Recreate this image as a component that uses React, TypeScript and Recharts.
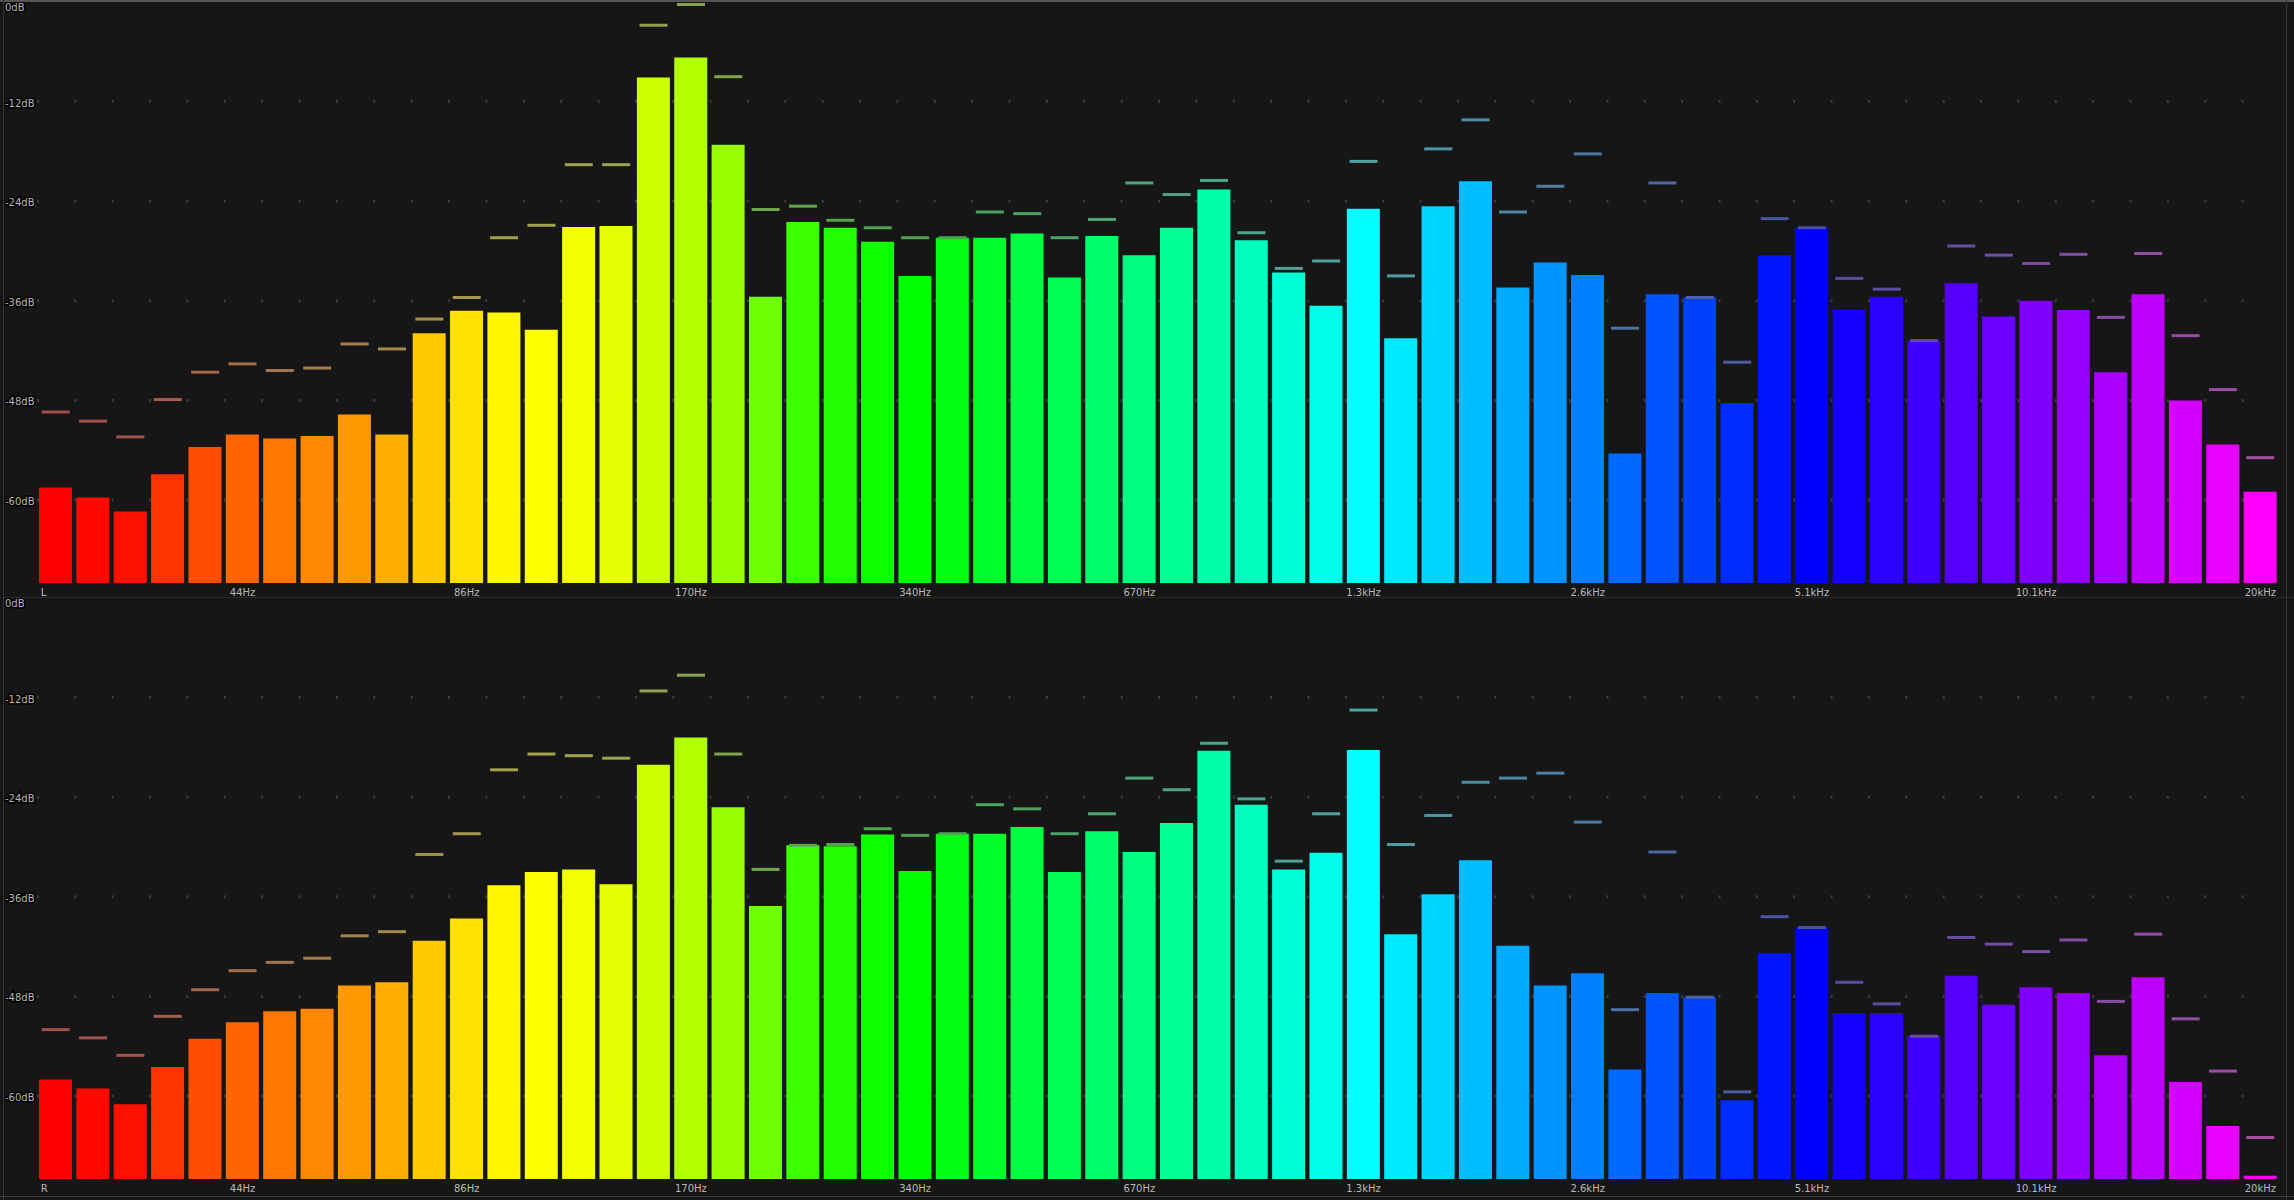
import { Bar, CartesianGrid, Cell, ComposedChart, Line, XAxis, YAxis } from "recharts";

// spectrum levels in dB, 60 bands
const LEFT_LEVEL = [
  -58.5, -59.7, -61.4, -56.9, -53.6, -52.1, -52.6, -52.3, -49.7, -52.1,
  -39.9, -37.2, -37.4, -39.5, -27.1, -27.0, -9.1, -6.7, -17.2, -35.5,
  -26.5, -27.2, -28.9, -33.0, -28.4, -28.4, -27.9, -33.2, -28.2, -30.5,
  -27.2, -22.6, -28.7, -32.6, -36.6, -24.9, -40.5, -24.6, -21.6, -34.4,
  -31.4, -32.9, -54.4, -35.2, -35.6, -48.3, -30.5, -27.2, -37.1, -35.5,
  -40.8, -33.9, -37.9, -36.0, -37.1, -44.6, -35.2, -48.0, -53.3, -59.0,
];
const LEFT_PEAK = [
  -49.4, -50.5, -52.4, -47.9, -44.6, -43.6, -44.4, -44.1, -41.2, -41.8,
  -38.2, -35.6, -28.4, -26.9, -19.6, -19.6, -2.8, -0.3, -9.0, -25.0,
  -24.6, -26.3, -27.2, -28.4, -28.4, -25.3, -25.5, -28.4, -26.2, -21.8,
  -23.2, -21.5, -27.8, -32.1, -31.2, -19.2, -33.0, -17.7, -14.2, -25.3,
  -22.2, -18.3, -39.3, -21.8, -35.6, -43.4, -26.1, -27.2, -33.3, -34.6,
  -40.8, -29.4, -30.5, -31.5, -30.4, -38.0, -30.3, -40.2, -46.7, -54.9,
];
const RIGHT_LEVEL = [
  -58.0, -59.1, -61.0, -56.5, -53.1, -51.1, -49.8, -49.5, -46.7, -46.3,
  -41.3, -38.6, -34.6, -33.0, -32.7, -34.5, -20.1, -16.8, -25.2, -37.1,
  -29.8, -29.9, -28.5, -32.9, -28.4, -28.4, -27.6, -33.0, -28.1, -30.6,
  -27.1, -18.4, -24.9, -32.7, -30.7, -18.3, -40.5, -35.7, -31.6, -41.9,
  -46.7, -45.2, -56.8, -47.6, -48.1, -60.5, -42.8, -39.7, -50.0, -50.0,
  -52.8, -45.5, -49.0, -46.9, -47.6, -55.1, -45.7, -58.3, -63.6, -69.6,
];
const RIGHT_PEAK = [
  -52.0, -53.0, -55.1, -50.4, -47.2, -44.9, -43.9, -43.4, -40.7, -40.2,
  -30.9, -28.4, -20.7, -18.8, -19.0, -19.3, -11.2, -9.3, -18.8, -32.7,
  -29.8, -29.7, -27.8, -28.6, -28.4, -24.9, -25.4, -28.4, -26.0, -21.7,
  -23.1, -17.5, -24.2, -31.7, -26.0, -13.5, -29.7, -26.2, -22.2, -21.7,
  -21.1, -27.0, -49.6, -30.6, -48.1, -59.5, -38.4, -39.7, -46.3, -48.9,
  -52.8, -40.9, -41.7, -42.6, -41.2, -48.6, -40.5, -50.7, -57.0, -65.0,
];

const TICK_BINS = [0, 5, 11, 17, 23, 29, 35, 41, 47, 53, 59];
const FREQ_LABELS = ["", "44Hz", "86Hz", "170Hz", "340Hz", "670Hz", "1.3kHz", "2.6kHz", "5.1kHz", "10.1kHz", "20kHz"];
const DB_TICKS = [0, -12, -24, -36, -48, -60];
const GRID_DB = [-12, -24, -36, -48, -60];
const FLOOR_DB = -70;

const W = 2294;
const LEFT = 37;
const BAND = (W - LEFT - 15) / 60;
const FONT = "'DejaVu Sans', sans-serif";

// hue ramp of the analyser palette (red -> yellow is stretched, then even steps to magenta)
const LOW_HUES = [0, 2, 4, 12, 18, 24, 28, 32, 36, 41, 47, 53, 58, 61, 63, 66, 72, 78, 84, 94, 106, 112, 117, 120];
const hue = (i: number) => (i < LOW_HUES.length ? LOW_HUES[i] : 120 + (i - 23) * 5);
const barColor = (i: number) => `hsl(${hue(i)}, 100%, 50%)`;
const peakColor = (i: number) => `hsl(${hue(i)}, 36%, 47%)`;

function DbTick({ y, payload }: any) {
  const v = payload.value;
  return (
    <text
      x={5}
      y={y + (v === 0 ? 5 : 1.5)}
      fill="#b8b8b8"
      fontSize={10}
      fontFamily={FONT}
      textAnchor="start"
      dominantBaseline="central"
      stroke="#000"
      strokeWidth={3}
      paintOrder="stroke"
    >
      {`${v}dB`}
    </text>
  );
}

function FreqTick({ x, y, payload, channel }: any) {
  const idx = TICK_BINS.indexOf(payload.value);
  if (idx < 0) return null;
  const first = idx === 0;
  return (
    <text
      x={first ? x - 15 : x}
      y={y + 9}
      fill="#b8b8b8"
      fontSize={10}
      fontFamily={FONT}
      textAnchor={first ? "start" : "middle"}
      dominantBaseline="central"
    >
      {first ? channel : FREQ_LABELS[idx]}
    </text>
  );
}

function PeakDot({ cx, cy, index }: any) {
  if (cx == null || cy == null) return null;
  return <rect x={cx - 14} y={cy - 1.5} width={28} height={3} fill={peakColor(index)} />;
}

function Panel({ channel, levels, peaks, height, margin }: any) {
  const data = levels.map((level: number, i: number) => ({ bin: i, level, peak: peaks[i] }));
  return (
    <ComposedChart width={W} height={height} data={data} margin={margin}>
      <CartesianGrid
        vertical={false}
        horizontalValues={GRID_DB}
        stroke="#3a3a3a"
        strokeWidth={3}
        strokeDasharray={`2 ${BAND - 2}`}
      />
      <XAxis
        dataKey="bin"
        type="category"
        ticks={TICK_BINS}
        interval={0}
        height={14}
        axisLine={false}
        tickLine={false}
        tickSize={0}
        tickMargin={0}
        tick={(p: any) => <FreqTick {...p} channel={channel} />}
      />
      <YAxis
        type="number"
        domain={[FLOOR_DB, 0]}
        ticks={DB_TICKS}
        width={LEFT}
        interval={0}
        axisLine={false}
        tickLine={false}
        tick={(p: any) => <DbTick {...p} />}
      />
      <Bar dataKey={(d: any) => [FLOOR_DB, d.level]} barSize={33} isAnimationActive={false}>
        {data.map((_: any, i: number) => (
          <Cell key={i} fill={barColor(i)} />
        ))}
      </Bar>
      <Line
        dataKey="peak"
        stroke="none"
        isAnimationActive={false}
        activeDot={false}
        dot={(p: any) => <PeakDot key={p.index} {...p} />}
      />
    </ComposedChart>
  );
}

export default function App() {
  return (
    <div
      style={{
        position: "fixed",
        left: 0,
        top: 0,
        width: W,
        height: 1200,
        background: "#161616",
        overflow: "hidden",
      }}
    >
      <div style={{ position: "absolute", left: 0, top: 0 }}>
        <Panel
          channel="L"
          levels={LEFT_LEVEL}
          peaks={LEFT_PEAK}
          height={597}
          margin={{ top: 2, right: 15, bottom: 0, left: 0 }}
        />
      </div>
      <div style={{ position: "absolute", left: 0, top: 597 }}>
        <Panel
          channel="R"
          levels={RIGHT_LEVEL}
          peaks={RIGHT_PEAK}
          height={603}
          margin={{ top: 1, right: 15, bottom: 7, left: 0 }}
        />
      </div>
      <div style={{ position: "absolute", left: 0, top: 0, width: W, height: 2, background: "#555" }} />
      <div style={{ position: "absolute", left: 0, top: 597, width: W, height: 1, background: "#2a2a2a" }} />
      <div style={{ position: "absolute", left: 3, top: 0, width: 1, height: 1200, background: "#333" }} />
      <div style={{ position: "absolute", left: W - 8, top: 0, width: 1, height: 1200, background: "#333" }} />
      <div style={{ position: "absolute", left: 0, top: 1196, width: W, height: 1, background: "#3a3a3a" }} />
    </div>
  );
}
